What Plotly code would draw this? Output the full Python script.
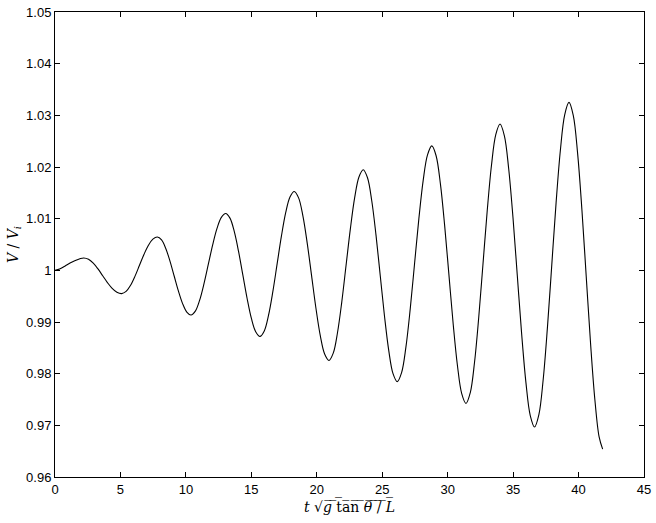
import plotly.graph_objects as go

# Values (t*sqrt(g tan(theta)/L), V/Vi)
t_vals = [0.0, 0.35, 0.75, 1.15, 1.55, 1.9,
          2.2, 2.561, 2.923, 3.284, 3.645, 4.006, 4.368, 4.729,
          5.09, 5.431, 5.773, 6.114, 6.455, 6.796, 7.138, 7.479,
          7.82, 8.141, 8.463, 8.784, 9.105, 9.426, 9.748, 10.069,
          10.39, 10.721, 11.053, 11.384, 11.715, 12.046, 12.378, 12.709,
          13.04, 13.368, 13.695, 14.023, 14.35, 14.678, 15.005, 15.333,
          15.66, 15.988, 16.315, 16.643, 16.97, 17.298, 17.625, 17.953,
          18.28, 18.611, 18.943, 19.274, 19.605, 19.936, 20.268, 20.599,
          20.93, 21.258, 21.585, 21.913, 22.24, 22.568, 22.895, 23.223,
          23.55, 23.875, 24.2, 24.525, 24.85, 25.175, 25.5, 25.825,
          26.15, 26.48, 26.81, 27.14, 27.47, 27.80, 28.13, 28.46,
          28.79, 29.116, 29.443, 29.769, 30.095, 30.421, 30.748, 31.074,
          31.40, 31.725, 32.05, 32.375, 32.7, 33.025, 33.35, 33.675,
          34.00, 34.33, 34.66, 34.99, 35.32, 35.65, 35.98, 36.31,
          36.64, 36.969, 37.298, 37.626, 37.955, 38.284, 38.613, 38.941,
          39.27, 39.599, 39.928, 40.256, 40.585, 40.914, 41.243, 41.571, 41.84]
v_vals = [1.0000, 1.00025, 1.0008, 1.0014, 1.0019, 1.00225,
          1.00240, 1.00214, 1.00139, 1.00027, 0.99895, 0.99763, 0.99651, 0.99576,
          0.99550, 0.99592, 0.99710, 0.99888, 1.00098, 1.00307, 1.00485, 1.00603,
          1.00645, 1.00588, 1.00424, 1.00179, 0.99890, 0.99601, 0.99356, 0.99193,
          0.99135, 0.99210, 0.99423, 0.99742, 1.00118, 1.00494, 1.00812, 1.01025,
          1.01100, 1.01010, 1.00752, 1.00366, 0.99911, 0.99455, 0.99069, 0.98812,
          0.98721, 0.98828, 0.99132, 0.99587, 1.00124, 1.00661, 1.01116, 1.01420,
          1.01527, 1.01403, 1.01048, 1.00517, 0.99892, 0.99266, 0.98735, 0.98381,
          0.98256, 0.98397, 0.98797, 0.99395, 1.00102, 1.00808, 1.01406, 1.01807,
          1.01947, 1.01791, 1.01346, 1.00681, 0.99896, 0.99111, 0.98446, 0.98001,
          0.97845, 0.98019, 0.98513, 0.99253, 1.00127, 1.01000, 1.01740, 1.02234,
          1.02408, 1.02218, 1.01678, 1.00870, 0.99916, 0.98962, 0.98154, 0.97614,
          0.97424, 0.97630, 0.98216, 0.99093, 1.00128, 1.01162, 1.02039, 1.02625,
          1.02831, 1.02608, 1.01972, 1.01021, 0.99899, 0.98777, 0.97826, 0.97190,
          0.96967, 0.97206, 0.97887, 0.98906, 1.00109, 1.01311, 1.02330, 1.03011,
          1.03250, 1.02994, 1.02264, 1.01173, 0.99885, 0.98597, 0.97506, 0.96776, 0.96540]

x_ticks = [0, 5, 10, 15, 20, 25, 30, 35, 40, 45]
y_ticks = [0.96, 0.97, 0.98, 0.99, 1.00, 1.01, 1.02, 1.03, 1.04, 1.05]
y_tick_text = ["0.96", "0.97", "0.98", "0.99", "1", "1.01", "1.02", "1.03", "1.04", "1.05"]

fig = go.Figure()
fig.add_trace(go.Scatter(
    x=t_vals, y=v_vals, mode="lines",
    line=dict(color="black", width=1.1, shape="spline", smoothing=1.0),
    showlegend=False, hoverinfo="skip"))

axis_common = dict(
    showgrid=False, zeroline=False, showline=True, linecolor="black", linewidth=1,
    mirror="ticks", ticks="inside", ticklen=5, tickcolor="black", tickwidth=1,
    automargin=False, ticklabeloverflow="allow",
    tickfont=dict(family="Liberation Sans, Arial, sans-serif", size=13, color="black"),
)

ol = "\u0305"
nb = "\u00a0"


def over(s):
    return "".join(c + ol for c in s)


xlabel = ("<i>t</i> √<i>" + over("g") + "</i>" + over(nb + "tan" + nb)
          + "<i>" + over("θ") + "</i>" + over(nb + "/" + nb) + "<i>" + over("L") + "</i>")

fig.update_layout(
    width=656, height=523,
    margin=dict(l=55, r=12, t=12, b=46),
    paper_bgcolor="white", plot_bgcolor="white",
    xaxis=dict(range=[0, 45], tickvals=x_ticks, **axis_common,
               title=dict(text=xlabel,
                          font=dict(family="DejaVu Serif, serif", size=14, color="black"),
                          standoff=2)),
    yaxis=dict(range=[0.96, 1.05], tickvals=y_ticks, ticktext=y_tick_text, **axis_common,
               title=dict(text="<i>V</i> / <i>V<sub>i</sub></i>",
                          font=dict(family="DejaVu Serif, serif", size=14, color="black"),
                          standoff=4)),
)

fig.write_html("out.html", config={"displayModeBar": False},
               post_script="document.body.style.margin='0';")
